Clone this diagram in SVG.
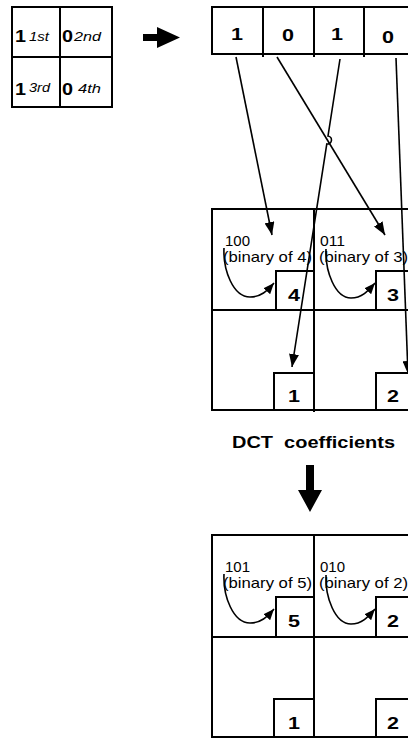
<svg xmlns="http://www.w3.org/2000/svg" width="408" height="738" viewBox="0 0 408 738">
<style>
.box{fill:#fff;stroke:#000;stroke-width:2}
.ln{fill:none;stroke:#000;stroke-width:1.6}
.gl{fill:none;stroke:#000;stroke-width:2}
text{font-family:"Liberation Sans",Arial,sans-serif;fill:#000}
.num{font-weight:bold;font-size:17px;text-anchor:middle}
.big{font-weight:bold;font-size:16px}
.ord{font-style:italic;font-size:12px}
.sm{font-size:15px}
.lbl{font-weight:bold;font-size:17px;white-space:pre}
</style>
<defs>
<marker id="ah" markerUnits="userSpaceOnUse" markerWidth="13" markerHeight="10" refX="13" refY="5" orient="auto"><path d="M0,0 L13,5 L0,10 z" fill="#000"/></marker>
<marker id="ahs" markerUnits="userSpaceOnUse" markerWidth="11" markerHeight="9" refX="11" refY="4.5" orient="auto"><path d="M0,0 L11,4.5 L0,9 z" fill="#000"/></marker>
</defs>
<rect width="408" height="738" fill="#fff"/>

<g id="input-grid">
<rect class="box" x="12" y="7" width="100" height="100"/>
<line class="gl" x1="60" y1="7" x2="60" y2="107"/>
<line class="gl" x1="12" y1="57" x2="112" y2="57"/>
<text class="big" x="15" y="42" textLength="11" lengthAdjust="spacingAndGlyphs">1</text>
<text class="ord" x="29" y="41" textLength="20" lengthAdjust="spacingAndGlyphs">1st</text>
<text class="big" x="62" y="42" textLength="11" lengthAdjust="spacingAndGlyphs">0</text>
<text class="ord" x="74" y="41" textLength="27" lengthAdjust="spacingAndGlyphs">2nd</text>
<text class="big" x="15" y="95" textLength="11" lengthAdjust="spacingAndGlyphs">1</text>
<text class="ord" x="29" y="92" textLength="21" lengthAdjust="spacingAndGlyphs">3rd</text>
<text class="big" x="62" y="95" textLength="11" lengthAdjust="spacingAndGlyphs">0</text>
<text class="ord" x="78" y="93" textLength="23" lengthAdjust="spacingAndGlyphs">4th</text>
</g>

<g id="arrow-right">
<polygon points="143,34 157,34 157,27 180,37.5 157,48 157,41 143,41" fill="#000"/>
</g>

<g id="bit-row">
<rect class="box" x="212" y="7" width="200" height="47"/>
<line class="gl" x1="263" y1="7" x2="263" y2="57"/>
<line class="gl" x1="314" y1="7" x2="314" y2="57"/>
<line class="gl" x1="364" y1="7" x2="364" y2="57"/>
<text class="num" x="237" y="40" textLength="12" lengthAdjust="spacingAndGlyphs">1</text>
<text class="num" x="288" y="41" textLength="12" lengthAdjust="spacingAndGlyphs">0</text>
<text class="num" x="337" y="40" textLength="12" lengthAdjust="spacingAndGlyphs">1</text>
<text class="num" x="388" y="43" textLength="12" lengthAdjust="spacingAndGlyphs">0</text>
</g>

<g id="dct-grid">
<rect class="box" x="212" y="209" width="200" height="201"/>
<line class="gl" x1="314" y1="209" x2="314" y2="412"/>
<line class="gl" x1="212" y1="310" x2="412" y2="310"/>
<rect class="box" x="276" y="271" width="38" height="39"/>
<rect class="box" x="376" y="271" width="36" height="39"/>
<rect class="box" x="274" y="373" width="40" height="37"/>
<rect class="box" x="376" y="373" width="36" height="37"/>
<text class="num" x="294" y="301" textLength="12" lengthAdjust="spacingAndGlyphs">4</text>
<text class="num" x="393" y="301" textLength="12" lengthAdjust="spacingAndGlyphs">3</text>
<text class="num" x="294" y="402" textLength="12" lengthAdjust="spacingAndGlyphs">1</text>
<text class="num" x="393" y="402" textLength="12" lengthAdjust="spacingAndGlyphs">2</text>
<text class="sm" x="225" y="246" textLength="25" lengthAdjust="spacingAndGlyphs">100</text>
<text class="sm" x="223" y="262" textLength="89" lengthAdjust="spacingAndGlyphs">(binary of 4)</text>
<text class="sm" x="320" y="246" textLength="25" lengthAdjust="spacingAndGlyphs">011</text>
<text class="sm" x="319" y="262" textLength="89" lengthAdjust="spacingAndGlyphs">(binary of 3)</text>
<path class="ln" d="M224,248 C223,270 233,297 250,297 C261,297 267,291 274,283" marker-end="url(#ahs)"/>
<path class="ln" d="M326,249 C325,271 335,298 351,298 C362,298 368,291 375,283" marker-end="url(#ahs)"/>
</g>

<g id="label-dct">
<text class="lbl" x="232" y="448" xml:space="preserve" textLength="163" lengthAdjust="spacingAndGlyphs">DCT  coefficients</text>
</g>

<g id="arrow-down">
<polygon points="306,465 314,465 314,490 322,490 310,512 298,490 306,490" fill="#000"/>
</g>

<g id="result-grid">
<rect class="box" x="212" y="535" width="200" height="202"/>
<line class="gl" x1="314" y1="535" x2="314" y2="737"/>
<line class="gl" x1="212" y1="637" x2="412" y2="637"/>
<rect class="box" x="276" y="597" width="38" height="40"/>
<rect class="box" x="376" y="597" width="36" height="40"/>
<rect class="box" x="274" y="699" width="40" height="38"/>
<rect class="box" x="376" y="699" width="36" height="38"/>
<text class="num" x="294" y="627" textLength="12" lengthAdjust="spacingAndGlyphs">5</text>
<text class="num" x="393" y="627" textLength="12" lengthAdjust="spacingAndGlyphs">2</text>
<text class="num" x="294" y="729" textLength="12" lengthAdjust="spacingAndGlyphs">1</text>
<text class="num" x="393" y="729" textLength="12" lengthAdjust="spacingAndGlyphs">2</text>
<text class="sm" x="225" y="572" textLength="25" lengthAdjust="spacingAndGlyphs">101</text>
<text class="sm" x="223" y="588" textLength="89" lengthAdjust="spacingAndGlyphs">(binary of 5)</text>
<text class="sm" x="320" y="572" textLength="25" lengthAdjust="spacingAndGlyphs">010</text>
<text class="sm" x="319" y="588" textLength="89" lengthAdjust="spacingAndGlyphs">(binary of 2)</text>
<path class="ln" d="M224,574 C223,596 233,623 250,623 C261,623 267,617 274,609" marker-end="url(#ahs)"/>
<path class="ln" d="M326,575 C325,597 335,624 351,624 C362,624 368,617 375,609" marker-end="url(#ahs)"/>
</g>

<g id="connectors">
<line class="ln" x1="236" y1="57" x2="272" y2="235" marker-end="url(#ah)"/>
<line class="ln" x1="277" y1="57" x2="385" y2="235" marker-end="url(#ah)"/>
<path class="ln" d="M340,59 L328,136 A4,4 0 0 1 326.8,144 L292,367" marker-end="url(#ah)"/>
<line class="ln" x1="396" y1="58" x2="408" y2="374" marker-end="url(#ah)"/>
</g>
</svg>
